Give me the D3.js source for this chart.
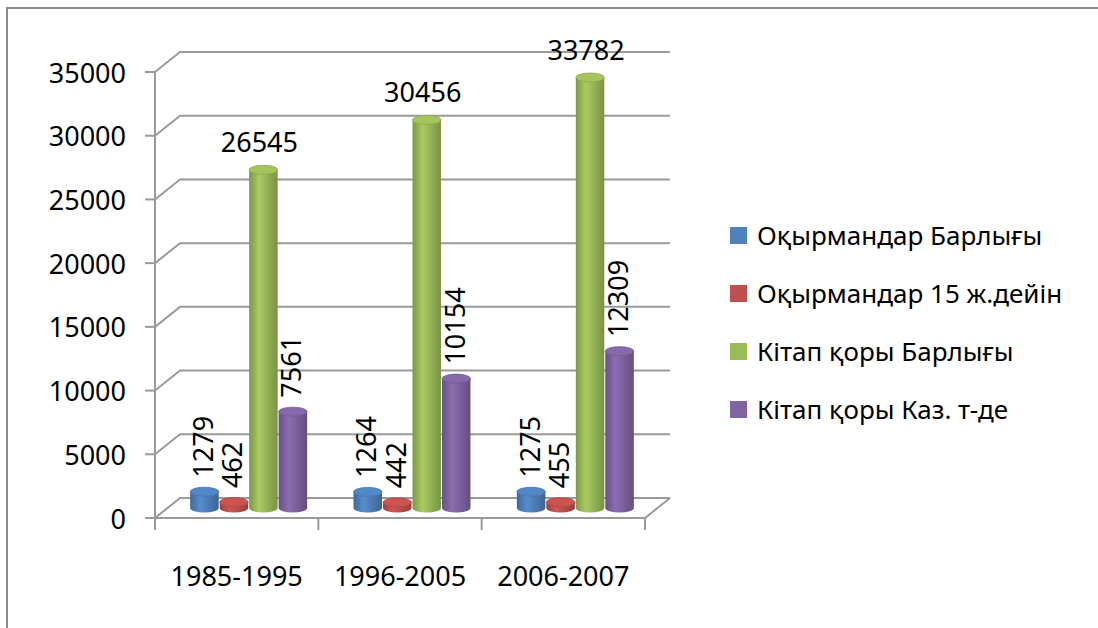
<!DOCTYPE html>
<html>
<head>
<meta charset="utf-8">
<script src="https://cdn.jsdelivr.net/npm/d3@7"></script>
<style>
    body { margin: 0; background: #fff; }
    text { font-family: "Noto Sans", sans-serif; fill: #000; }
</style>
</head>
<body>
<svg id="chart" width="1098" height="628"></svg>
<script>
const categories = ["1985-1995", "1996-2005", "2006-2007"];
const seriesNames = ["Оқырмандар Барлығы", "Оқырмандар 15 ж.дейін", "Кітап қоры Барлығы", "Кітап қоры Каз. т-де"];
const readersTotal = [1279, 1264, 1275];
const readersUnder15 = [462, 442, 455];
const booksTotal = [26545, 30456, 33782];
const booksKazakh = [7561, 10154, 12309];
const yTicks = [0, 5000, 10000, 15000, 20000, 25000, 30000, 35000];
const colors = ["#4f81bd", "#c0504d", "#9bbb59", "#8064a2"];

const seriesValues = [readersTotal, readersUnder15, booksTotal, booksKazakh];

const svg = d3.select("#chart");
const depthX = 25, depthY = -20;   // 3d depth of the plot floor
const midX = depthX / 2, midY = depthY / 2;

// outer frame
svg.append("path")
    .attr("d", "M7,640 L7,8 L1110,8")
    .attr("fill", "none")
    .attr("stroke", "#8c8c8c")
    .attr("stroke-width", 2);

const x = d3.scaleBand().domain(categories).range([155, 645]);
const xs = d3.scaleBand().domain(d3.range(seriesNames.length))
    .range([0, x.bandwidth()]).paddingOuter(0.77);
const y = d3.scaleLinear().domain([0, 35000]).range([518, 72]);

// gridlines (diagonal + back wall)
const grid = svg.append("g").attr("stroke", "#9a9a9a").attr("stroke-width", 2).attr("fill", "none");
grid.selectAll("path").data(yTicks).join("path")
    .attr("d", d => `M155,${y(d)} L${155 + depthX},${y(d) + depthY} L${645 + depthX},${y(d) + depthY}`);

// floor
grid.append("path")
    .attr("d", `M155,${y(0)} L645,${y(0)} L${645 + depthX},${y(0) + depthY}`);

// y axis
const axis = svg.append("g").attr("stroke", "#9a9a9a").attr("stroke-width", 2);
axis.append("line").attr("x1", 155).attr("x2", 155).attr("y1", y(35000)).attr("y2", y(0));
axis.selectAll(".yt").data(yTicks).join("line").attr("class", "yt")
    .attr("x1", 145).attr("x2", 155).attr("y1", d => y(d)).attr("y2", d => y(d));
svg.selectAll(".ylab").data(yTicks).join("text").attr("class", "ylab")
    .attr("x", 126).attr("y", d => y(d))
    .attr("text-anchor", "end").attr("dominant-baseline", "central")
    .style("font-size", "27px")
    .text(d => d);

// x ticks
const xTickPos = categories.map(c => x(c)).concat([645]);
axis.selectAll(".xt").data(xTickPos).join("line").attr("class", "xt")
    .attr("x1", d => d).attr("x2", d => d).attr("y1", y(0)).attr("y2", y(0) + 12);
svg.selectAll(".xlab").data(categories).join("text").attr("class", "xlab")
    .attr("x", d => x(d) + x.bandwidth() / 2).attr("y", 575)
    .attr("text-anchor", "middle").attr("dominant-baseline", "central")
    .style("font-size", "27px")
    .text(d => d);

// cylinder gradients
const defs = svg.append("defs");
colors.forEach((c, i) => {
    const g = defs.append("linearGradient").attr("id", "cyl" + i);
    g.append("stop").attr("offset", "0%").attr("stop-color", d3.color(c).darker(0.6));
    g.append("stop").attr("offset", "35%").attr("stop-color", d3.color(c).brighter(0.25));
    g.append("stop").attr("offset", "100%").attr("stop-color", d3.color(c).darker(0.7));
});

const rows = [];
categories.forEach((c, ci) => {
    seriesValues.forEach((vals, si) => {
        rows.push({ cat: c, si: si, value: vals[ci] });
    });
});

const ry = 4.5;
const bars = svg.append("g").selectAll("g").data(rows).join("g");
bars.each(function (d) {
    const g = d3.select(this);
    const x0 = x(d.cat) + xs(d.si) + midX;
    const w = xs.bandwidth() - 1;
    const rx = w / 2;
    const cx = x0 + rx;
    const yb = y(0) + midY;
    const yt = y(d.value) + midY;
    g.append("path")
        .attr("d", `M${x0},${yt} L${x0},${yb} A${rx},${ry} 0 0 0 ${x0 + w},${yb} L${x0 + w},${yt} Z`)
        .attr("fill", `url(#cyl${d.si})`);
    g.append("ellipse")
        .attr("cx", cx).attr("cy", yt).attr("rx", rx).attr("ry", ry)
        .attr("fill", d3.color(colors[d.si]).brighter(0.15))
        .attr("stroke", d3.color(colors[d.si]).darker(0.3))
        .attr("stroke-width", 0.8);

    if (d.si === 2) {
        g.append("text")
            .attr("x", cx - 4).attr("y", yt - 18)
            .attr("text-anchor", "middle")
            .style("font-size", "27px")
            .text(d.value);
    } else {
        g.append("text")
            .attr("transform", `translate(${cx - 2},${yt - 14}) rotate(-90)`)
            .attr("text-anchor", "start").attr("dominant-baseline", "central")
            .style("font-size", "27px")
            .text(d.value);
    }
});

// legend
const legend = svg.append("g").selectAll("g").data(seriesNames).join("g")
    .attr("transform", (d, i) => `translate(730,${235 + i * 58})`);
legend.append("rect")
    .attr("x", 0).attr("y", -8).attr("width", 17).attr("height", 17)
    .attr("fill", (d, i) => colors[i]);
legend.append("text")
    .attr("x", 27).attr("y", 0)
    .attr("dominant-baseline", "central")
    .style("font-size", "26px")
    .text(d => d);
</script>
</body>
</html>
